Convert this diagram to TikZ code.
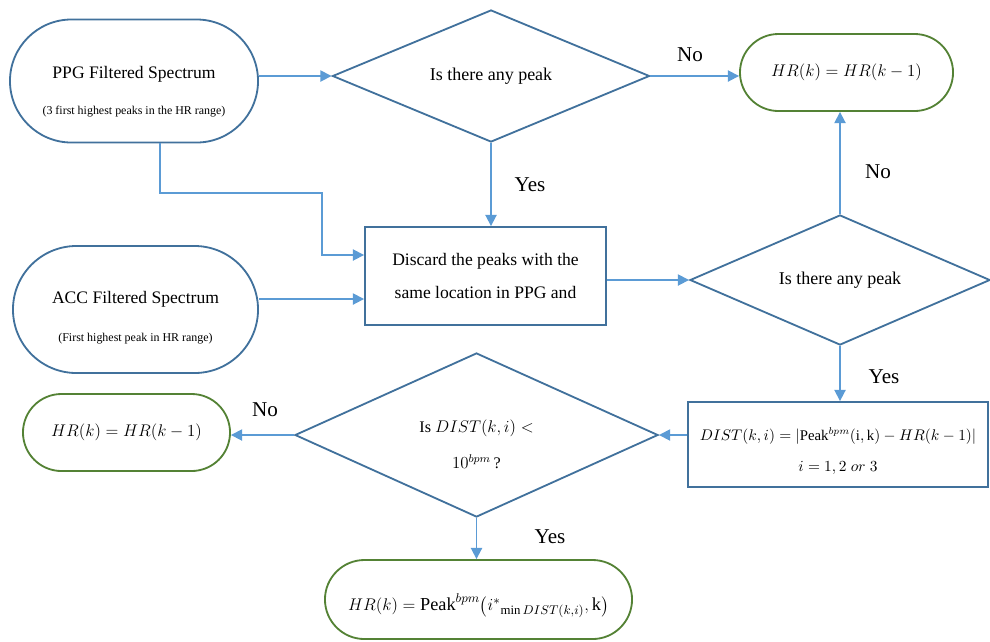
\documentclass[tikz,border=0pt]{standalone}
\usepackage{fontspec,amsmath}
\setmainfont{Liberation Serif}
\usetikzlibrary{arrows.meta,positioning,shapes.geometric,shapes.misc}
\definecolor{edgeblue}{HTML}{41719C}
\definecolor{arrowblue}{HTML}{5B9BD5}
\definecolor{termgreen}{HTML}{548235}
\newcommand{\twolines}[4]{\raisebox{#1}[0pt][0pt]{\begin{tabular}[t]{@{}c@{}}#2\\[#3]#4\end{tabular}}}
\begin{document}
\begin{tikzpicture}[x=0.025cm,y=-0.025cm,
term/.style={draw=edgeblue,line width=1.3pt,rounded rectangle,align=center,inner sep=0pt},
res/.style={draw=termgreen,line width=1.3pt,rounded rectangle,align=center,inner sep=0pt,font=\fontsize{13}{15}\selectfont},
proc/.style={draw=edgeblue,line width=1.3pt,rectangle,align=center,inner sep=0pt},
dec/.style={draw=edgeblue,line width=1.3pt,diamond,align=center,inner sep=0pt,font=\fontsize{12.8}{14}\selectfont},
arr/.style={draw=arrowblue,line width=1.2pt,-{Triangle[length=2.8mm,width=2.8mm]}},
lbl/.style={font=\fontsize{15}{17}\selectfont}]
\useasboundingbox (0,0) rectangle (990,641);
% inputs
\node[term,minimum width=6.2cm,minimum height=3.075cm] (ppg) at (134,81) {\twolines{2pt}{\fontsize{12.5}{14}\selectfont PPG Filtered Spectrum}{13.5pt}{\fontsize{8.5}{9}\selectfont (3 first highest peaks in the HR range)}};
\node[term,minimum width=6.125cm,minimum height=3.175cm] (acc) at (135.5,309.5) {\twolines{4.5pt}{\fontsize{12.5}{14}\selectfont ACC Filtered Spectrum}{15pt}{\fontsize{8.5}{9}\selectfont (First highest peak in HR range)}};
% decisions and steps
\node[dec,aspect=2.4,minimum width=7.925cm,minimum height=3.3cm] (d1) at (491,76) {Is there any peak};
\node[proc,minimum width=6.025cm,minimum height=2.45cm,font=\fontsize{12.5}{14}\selectfont] (disc) at (485.5,276) {Discard the peaks with the\\[10pt]same location in PPG and};
\node[dec,aspect=2.3,minimum width=7.5cm,minimum height=3.25cm] (d2) at (840,280) {Is there any peak};
\node[proc,minimum width=7.5cm,minimum height=2.125cm,font=\fontsize{10.5}{12}\selectfont] (dist) at (838,444.5) {\twolines{2.5pt}{$DIST(k,i)=|\mathrm{Peak}^{bpm}(\mathrm{i},\mathrm{k})-HR(k-1)|$}{10pt}{$i=1,2\;or\;3$}};
\node[dec,aspect=2.2,minimum width=9.075cm,minimum height=4.1cm,font=\fontsize{11.5}{13}\selectfont] (d3) at (476.5,435) {\twolines{2pt}{Is $DIST(k,i)<$}{12pt}{$10^{bpm}$\,?}};
% results
\node[res,minimum width=5.325cm,minimum height=1.925cm] (hrtop) at (846.5,72.5) {$HR(k)=HR(k-1)$};
\node[res,minimum width=5.175cm,minimum height=1.925cm] (hrleft) at (126.5,432.5) {$HR(k)=HR(k-1)$};
\node[res,minimum width=7.675cm,minimum height=1.975cm] (hrpeak) at (478.5,599.5) {\raisebox{-8pt}[0pt][0pt]{$HR(k)=\mathrm{Peak}^{bpm}\big({i^{*}}_{\min DIST(k,i)},\mathrm{k}\big)$}};
% labels
\node[lbl] (no1) at (690,55) {No};
\node[lbl] (yes1) at (530,185) {Yes};
\node[lbl] (no2) at (878,172) {No};
\node[lbl] (yes2) at (884,377) {Yes};
\node[lbl] (no3) at (265,410) {No};
\node[lbl] (yes3) at (550,537) {Yes};
% connectors
\coordinate (bend) at (322,193);
\coordinate (inA) at ([yshift=5.25mm]disc.west);
\coordinate (inB) at ([yshift=-5.75mm]disc.west);
\draw[arr](ppg.east |- d1)--(d1.west);\draw[arr](d1.east)--(d1.east -| hrtop.west);\draw[arr](d1.south)--(d1.south |- disc.north);
\draw[arr]([xshift=6.5mm]ppg.south) |- (bend) |- (inA);\draw[arr](acc.east |- inB)--(inB);
\draw[arr](disc.east |- d2)--(d2.west);\draw[arr](d2.north)--(d2.north |- hrtop.south);\draw[arr](d2.south)--(d2.south |- dist.north);
\draw[arr](dist.west |- d3)--(d3.east);\draw[arr](d3.west)--(d3.west -| hrleft.east);\draw[arr](d3.south)--(d3.south |- hrpeak.north);
\end{tikzpicture}
\end{document}
